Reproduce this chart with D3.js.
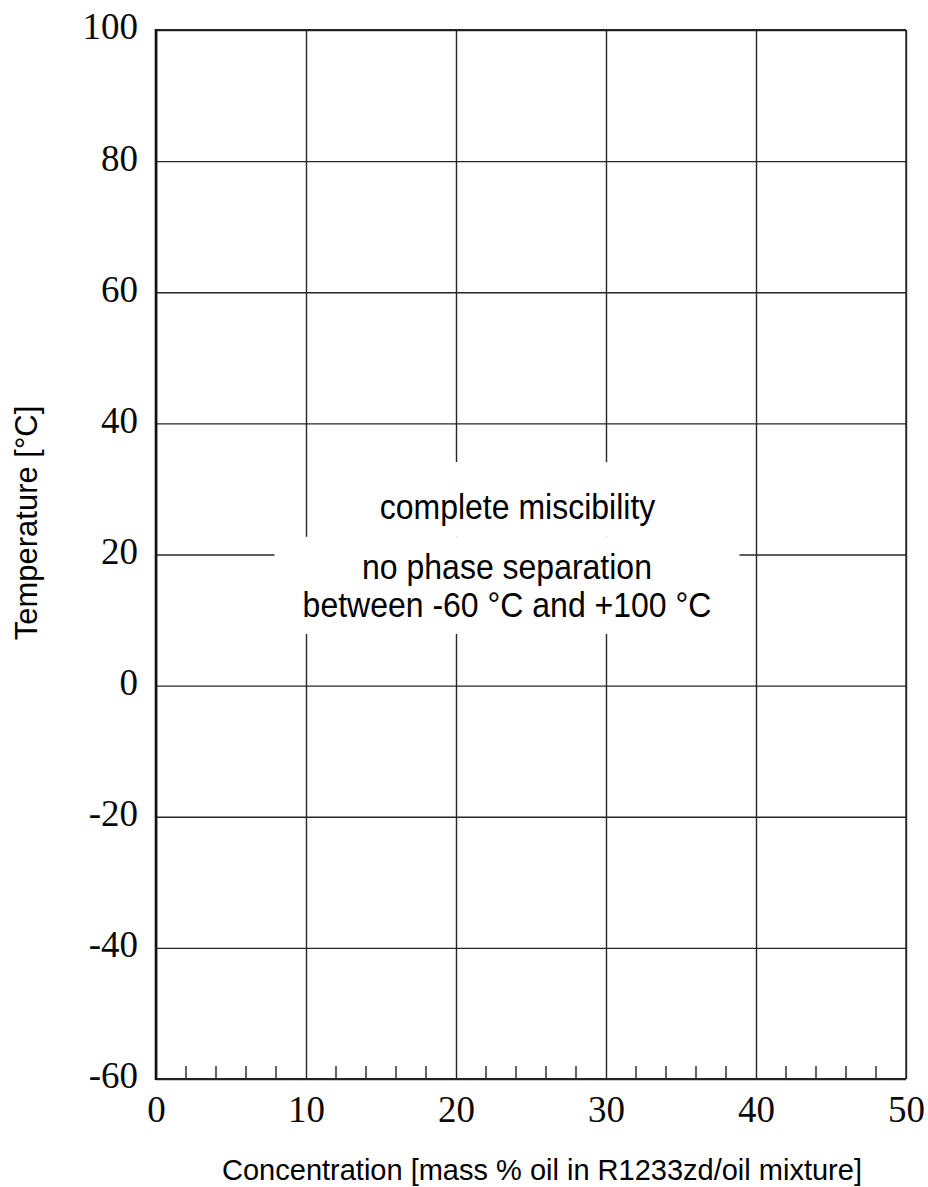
<!DOCTYPE html>
<html>
<head>
<meta charset="utf-8">
<script src="https://cdn.jsdelivr.net/npm/d3@7"></script>
<style>
  body { margin: 0; background: #fff; }
  svg { display: block; }
</style>
</head>
<body>
<script>
const width = 928
const height = 1187
const margin = {top: 30, right: 22, bottom: 108, left: 156}

// axis data
const xDomain = [0, 50]
const yDomain = [-60, 100]
const xTicks = [0, 10, 20, 30, 40, 50]
const yTicks = [-60, -40, -20, 0, 20, 40, 60, 80, 100]
const xMinorTicks = [2, 4, 6, 8, 12, 14, 16, 18, 22, 24, 26, 28, 32, 34, 36, 38, 42, 44, 46, 48]

const xTitle = 'Concentration [mass % oil in R1233zd/oil mixture]'
const yTitle = 'Temperature [°C]'

// annotation text, placed in data units
const noteTop = ['complete miscibility']
const noteBottom = ['no phase separation', 'between -60 °C and +100 °C']

const svg = d3.select('body')
  .append('svg')
  .attr('width', width)
  .attr('height', height)

const x = d3.scaleLinear().domain(xDomain).range([margin.left, width - margin.right])
const y = d3.scaleLinear().domain(yDomain).range([height - margin.bottom, margin.top])

const plotW = x.range()[1] - x.range()[0]
const plotH = y.range()[0] - y.range()[1]

const serif = '"Liberation Serif", "Times New Roman", serif'
const sans = '"Liberation Sans", Arial, sans-serif'
const gridColor = '#262626'

// vertical grid + x labels
const xAxis = svg.append('g')
  .attr('transform', `translate(0,${y.range()[0]})`)
  .call(d3.axisBottom(x).tickValues(xTicks).tickSize(-plotH).tickPadding(17).tickFormat((d) => String(d)))
xAxis.select('.domain').remove()
xAxis.selectAll('line').attr('stroke', gridColor).attr('stroke-width', 1.4)
xAxis.selectAll('text')
  .attr('font-family', serif)
  .attr('font-size', 37)
  .attr('fill', '#0a0a0a')

// horizontal grid + y labels
const yAxis = svg.append('g')
  .attr('transform', `translate(${x.range()[0]},0)`)
  .call(d3.axisLeft(y).tickValues(yTicks).tickSize(-plotW).tickPadding(18).tickFormat((d) => String(d)))
yAxis.select('.domain').remove()
yAxis.selectAll('line').attr('stroke', gridColor).attr('stroke-width', 1.4)
yAxis.selectAll('text')
  .attr('font-family', serif)
  .attr('font-size', 37)
  .attr('dy', '0.24em')
  .attr('fill', '#0a0a0a')

// minor ticks on the bottom edge
svg.append('g')
  .selectAll('line')
  .data(xMinorTicks)
  .join('line')
  .attr('x1', (d) => x(d))
  .attr('x2', (d) => x(d))
  .attr('y1', y.range()[0])
  .attr('y2', y.range()[0] - 13)
  .attr('stroke', gridColor)
  .attr('stroke-width', 1.4)

// frame
svg.append('line')
  .attr('x1', x.range()[0]).attr('x2', x.range()[1])
  .attr('y1', y.range()[0]).attr('y2', y.range()[0])
  .attr('stroke', '#222').attr('stroke-width', 2)
svg.append('line')
  .attr('x1', x.range()[0]).attr('x2', x.range()[1])
  .attr('y1', y.range()[1]).attr('y2', y.range()[1])
  .attr('stroke', '#222').attr('stroke-width', 1.8)
svg.append('line')
  .attr('x1', x.range()[0]).attr('x2', x.range()[0])
  .attr('y1', y.range()[1] - 1).attr('y2', y.range()[0] + 1)
  .attr('stroke', '#111').attr('stroke-width', 2.6)
svg.append('line')
  .attr('x1', x.range()[1]).attr('x2', x.range()[1])
  .attr('y1', y.range()[1]).attr('y2', y.range()[0])
  .attr('stroke', gridColor).attr('stroke-width', 1.4)

// white label boxes that hide the grid behind the note
const boxes = [
  {x0: 11.6, x1: 36.7, y0: 34.1, y1: 22.7},
  {x0: 7.9, x1: 38.9, y0: 22.7, y1: 7.9}
]
svg.append('g')
  .selectAll('rect')
  .data(boxes)
  .join('rect')
  .attr('x', (d) => x(d.x0))
  .attr('y', (d) => y(d.y0))
  .attr('width', (d) => x(d.x1) - x(d.x0))
  .attr('height', (d) => y(d.y1) - y(d.y0))
  .attr('fill', '#fff')

svg.append('text')
  .attr('transform', `translate(${x(24.1)},${y(25.4)}) scale(1,1.1)`)
  .attr('text-anchor', 'middle')
  .attr('font-family', sans)
  .attr('font-size', 32)
  .attr('fill', '#000')
  .text(noteTop[0])

svg.append('g')
  .selectAll('text')
  .data(noteBottom)
  .join('text')
  .attr('transform', (d, i) => `translate(${x(23.4)},${y(16.3) + i * 38}) scale(1,1.1)`)
  .attr('text-anchor', 'middle')
  .attr('font-family', sans)
  .attr('font-size', 32)
  .attr('fill', '#000')
  .text((d) => d)

// axis titles
svg.append('text')
  .attr('x', (x.range()[0] + x.range()[1]) / 2 + 11)
  .attr('y', 1180)
  .attr('text-anchor', 'middle')
  .attr('font-family', sans)
  .attr('font-size', 29)
  .attr('fill', '#000')
  .text(xTitle)

svg.append('text')
  .attr('transform', `translate(37,523) rotate(-90)`)
  .attr('text-anchor', 'middle')
  .attr('font-family', sans)
  .attr('font-size', 31)
  .attr('fill', '#000')
  .text(yTitle)
</script>
</body>
</html>
